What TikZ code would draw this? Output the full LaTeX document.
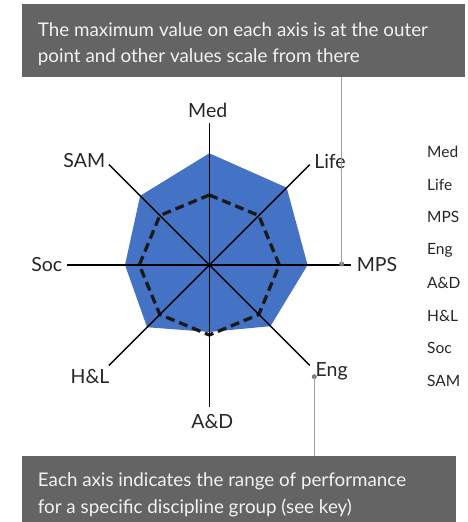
\documentclass[tikz,border=0pt]{standalone}
\usepackage{fontspec}
\setmainfont{Lato}
\usetikzlibrary{calc}
\definecolor{boxgray}{HTML}{646464}
\definecolor{boxtext}{HTML}{F2F2F2}
\definecolor{radarblue}{HTML}{4472C4}
\definecolor{leadgray}{HTML}{A0A0A0}
\definecolor{dotgray}{HTML}{7A7A7A}
\tikzset{
  notebox/.style={fill=boxgray, draw=none},
  notetext/.style={anchor=base west, inner sep=0pt, text=boxtext, font=\fontsize{18.8}{24}\selectfont},
  axisline/.style={draw=black, line width=1.4pt},
  axislabel/.style={inner sep=0pt, text=black!85, font=\fontsize{19.5}{20}\selectfont},
  keytext/.style={anchor=west, inner sep=0pt, text=black!85, font=\fontsize{15.5}{16}\selectfont},
  leader/.style={draw=leadgray, line width=1.2pt},
  leaddot/.style={circle, fill=dotgray, inner sep=0pt, minimum size=5pt},
  refline/.style={draw=black!90, line width=3.3pt, dash pattern=on 9pt off 5pt},
}
\begin{document}
\begin{tikzpicture}[x=1pt,y=1pt]
\useasboundingbox (0,0) rectangle (467,522);
% boxes
\fill[notebox] (21.7,518) rectangle (465,445) ;
\fill[notebox] (21.7,66) rectangle (456,0);
\node[notetext] (t1) at (37.7,485.3) {The maximum value on each axis is at the outer};
\node[notetext] (t2) at (37.7,459) {point and other values scale from there};
\node[notetext] (b1) at (37.7,35) {Each axis indicates the range of performance};
\node[notetext] (b2) at (37.7,9) {for a specific discipline group (see key)};
\coordinate (topbox) at (341.7,445);
\coordinate (botbox) at (314.3,66);
% chart
\coordinate (C) at (209.3,257);
\fill[radarblue] ($(C)+(90:111.7)$) -- ($(C)+(45:109.4)$) -- ($(C)+(0:98.3)$) -- ($(C)+(-45:86.5)$)
  -- ($(C)+(-90:67)$) -- ($(C)+(-135:88)$) -- ($(C)+(180:84.3)$) -- ($(C)+(135:97.8)$) -- cycle;
\draw[refline] ($(C)+(90:70)$) -- ($(C)+(45:70)$) -- ($(C)+(0:70)$) -- ($(C)+(-45:70)$)
  -- ($(C)+(-90:70)$) -- ($(C)+(-135:70)$) -- ($(C)+(180:70)$) -- ($(C)+(135:70)$) -- cycle;
\foreach \a/\n in {90/med,45/life,0/mps,-45/eng,-90/ad,-135/hl,180/soc,135/sam}{
  \coordinate (e\n) at ($(C)+(\a:142)$);
  \draw[axisline] (C) -- (e\n);
}
\fill[black] (C) circle (2pt);
% axis labels
\node[axislabel] (lmed) at (207.7,411.3) {Med};
\node[axislabel] (llife) at (330,360.3) {Life};
\node[axislabel] (lmps) at (377,257) {MPS};
\node[axislabel] (leng) at (331.7,151) {Eng};
\node[axislabel] (lad) at (212.3,100.3) {A\&D};
\node[axislabel] (lhl) at (90,145) {H\&L};
\node[axislabel] (lsoc) at (46.7,257) {Soc};
\node[axislabel] (lsam) at (84.3,361) {SAM};
% leaders
\node[leaddot] (d1) at (341.7,258) {};
\node[leaddot] (d2) at (314.3,145.3) {};
\draw[leader] (topbox) -- (d1.center);
\draw[leader] (d2.center) -- (botbox);
% key
\foreach \t [count=\i] in {Med,Life,MPS,Eng,A\&D,H\&L,Soc,SAM}{
  \node[keytext] (k\i) at (427,{370-(\i-1)*32.7}) {\t};
}
\end{tikzpicture}
\end{document}
